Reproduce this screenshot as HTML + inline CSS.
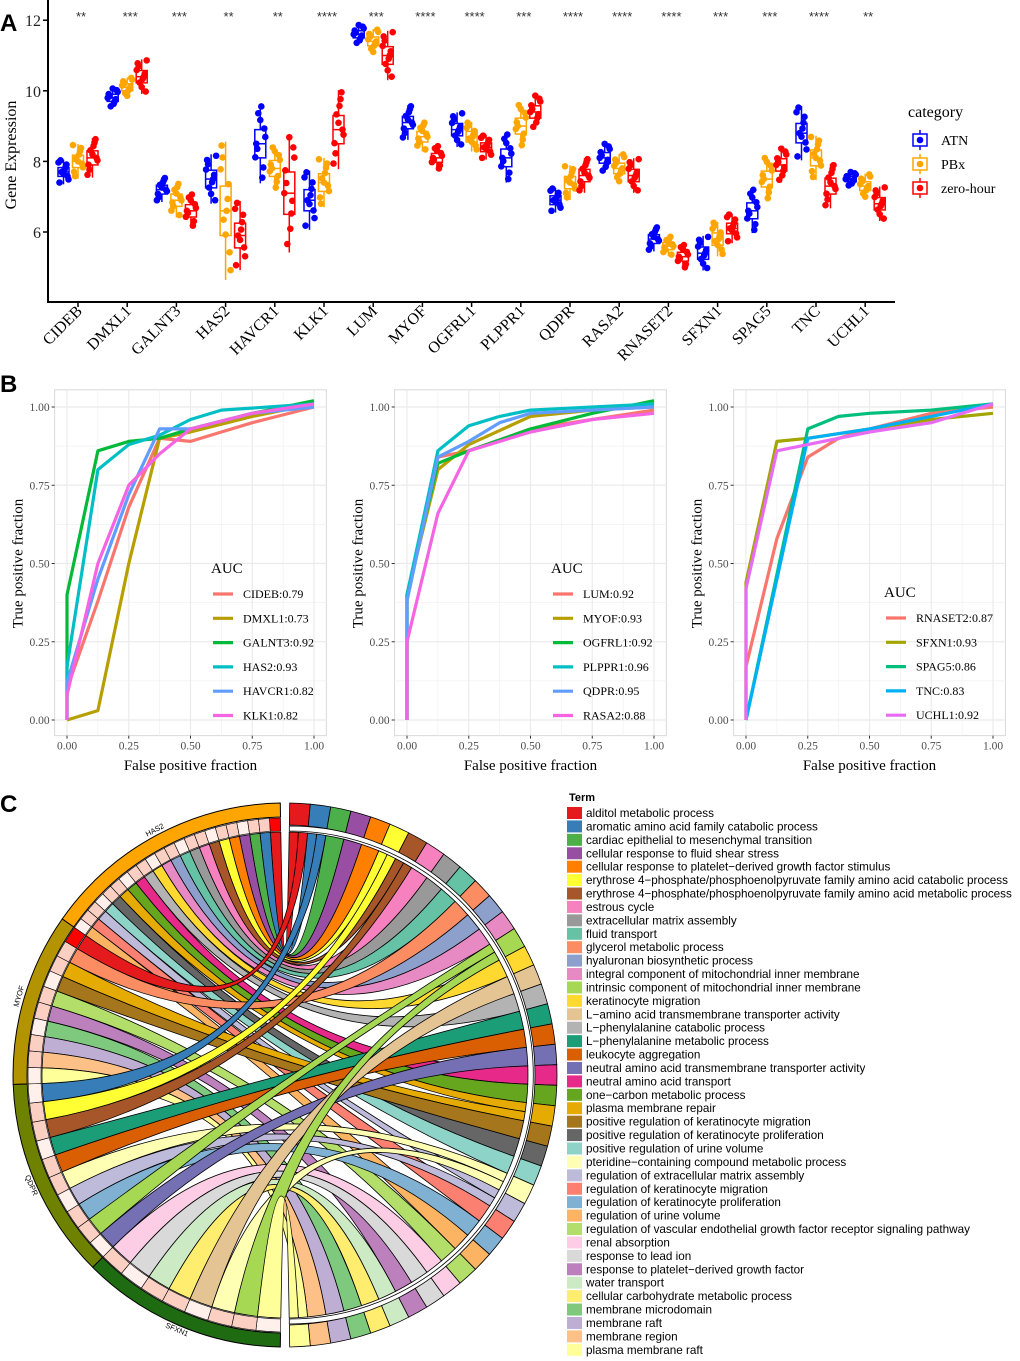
<!DOCTYPE html>
<html><head><meta charset="utf-8"><style>
html,body{margin:0;padding:0;background:#fff}
svg{display:block}
.serif{font-family:"Liberation Serif",serif}
.sans{font-family:"Liberation Sans",sans-serif}
</style></head><body>
<svg id="fig" width="1020" height="1361" viewBox="0 0 1020 1361" xmlns="http://www.w3.org/2000/svg">
<g id="panelA"></g>
<g id="panelB"></g>
<g id="panelC"></g>
</svg>
<script>
// ---------- Panel A data ----------
const genes = ["CIDEB","DMXL1","GALNT3","HAS2","HAVCR1","KLK1","LUM","MYOF","OGFRL1","PLPPR1","QDPR","RASA2","RNASET2","SFXN1","SPAG5","TNC","UCHL1"];
const seriesNames = ["ATN","PBx","zero-hour"];
const medATN = [7.7,9.8,7.2,7.5,8.5,6.9,11.6,9.1,8.9,8.1,6.9,8.1,5.8,5.4,6.6,8.8,7.5];
const medPBx = [8.0,10.1,6.9,6.6,7.8,7.4,11.4,8.7,8.7,9.0,7.4,7.8,5.6,5.8,7.5,8.1,7.3];
const medZH  = [8.1,10.4,6.6,5.9,7.1,8.9,11.0,8.1,8.4,9.4,7.6,7.6,5.3,6.1,7.9,7.3,6.8];
const iqrATN = [0.25,0.2,0.25,0.5,0.8,0.6,0.2,0.35,0.35,0.5,0.25,0.3,0.25,0.35,0.45,0.55,0.15];
const iqrPBx = [0.35,0.2,0.35,1.4,0.45,0.5,0.25,0.3,0.3,0.45,0.35,0.3,0.2,0.35,0.45,0.45,0.25];
const iqrZH  = [0.4,0.35,0.35,0.7,1.2,0.8,0.5,0.25,0.25,0.35,0.35,0.35,0.25,0.3,0.35,0.45,0.35];
const sigLabels = ["**","***","***","**","**","****","***","****","****","***","****","****","****","***","***","****","**"];
const yTicksA = [6,8,10,12];
// ---------- Panel B data ----------
const rocNames = [["CIDEB:0.79","DMXL1:0.73","GALNT3:0.92","HAS2:0.93","HAVCR1:0.82","KLK1:0.82"],
 ["LUM:0.92","MYOF:0.93","OGFRL1:0.92","PLPPR1:0.96","QDPR:0.95","RASA2:0.88"],
 ["RNASET2:0.87","SFXN1:0.93","SPAG5:0.86","TNC:0.83","UCHL1:0.92"]];
const rocFpr1 = [[0,0.125,0.25,0.375,0.5,0.625,0.75,1],[0,0,0.125,0.25,0.375,0.5,0.75,1],[0,0,0.125,0.25,0.375,0.5,0.75,1],[0,0,0.125,0.25,0.375,0.5,0.625,1],[0,0,0.125,0.25,0.375,0.5,0.75,1],[0,0,0.125,0.25,0.375,0.5,0.75,1]];
const rocTpr1 = [[0.1,0.38,0.68,0.9,0.89,0.92,0.95,1],[0,0,0.03,0.5,0.9,0.92,0.97,1.01],[0,0.4,0.86,0.89,0.9,0.93,0.98,1.02],[0,0.17,0.8,0.88,0.91,0.96,0.99,1.01],[0,0.12,0.45,0.72,0.93,0.93,0.98,1],[0,0.08,0.5,0.75,0.85,0.93,0.98,1.01]];
const rocFpr2 = [[0,0,0.125,0.25,0.5,0.75,1],[0,0,0.125,0.25,0.5,0.75,1],[0,0,0.125,0.25,0.5,0.75,1],[0,0,0.125,0.25,0.375,0.5,1],[0,0,0.125,0.25,0.375,0.5,1],[0,0,0.125,0.25,0.5,0.75,1]];
const rocTpr2 = [[0,0.4,0.84,0.86,0.93,0.96,0.99],[0,0.4,0.8,0.88,0.97,0.99,1],[0,0.4,0.82,0.86,0.93,0.98,1.02],[0,0.4,0.86,0.94,0.97,0.99,1.01],[0,0.38,0.84,0.89,0.95,0.98,1],[0,0.25,0.66,0.86,0.92,0.96,0.98]];
const rocFpr3 = [[0,0,0.125,0.25,0.375,0.5,0.75,1],[0,0,0.125,0.25,0.5,0.75,1],[0,0.25,0.375,0.5,0.75,1],[0,0.25,0.5,0.75,1],[0,0,0.125,0.25,0.5,0.75,1]];
const rocTpr3 = [[0,0.17,0.58,0.84,0.9,0.93,0.98,1],[0,0.44,0.89,0.9,0.93,0.96,0.98],[0,0.93,0.97,0.98,0.99,1.01],[0,0.9,0.93,0.97,1.01],[0,0.42,0.86,0.88,0.92,0.95,1.01]];
const rocTicks = [0,0.25,0.5,0.75,1];
// ---------- Panel C data ----------
const terms = ["alditol metabolic process","aromatic amino acid family catabolic process","cardiac epithelial to mesenchymal transition","cellular response to fluid shear stress","cellular response to platelet\u2212derived growth factor stimulus","erythrose 4\u2212phosphate/phosphoenolpyruvate family amino acid catabolic process","erythrose 4\u2212phosphate/phosphoenolpyruvate family amino acid metabolic process","estrous cycle","extracellular matrix assembly","fluid transport","glycerol metabolic process","hyaluronan biosynthetic process","integral component of mitochondrial inner membrane","intrinsic component of mitochondrial inner membrane","keratinocyte migration","L\u2212amino acid transmembrane transporter activity","L\u2212phenylalanine catabolic process","L\u2212phenylalanine metabolic process","leukocyte aggregation","neutral amino acid transmembrane transporter activity","neutral amino acid transport","one\u2212carbon metabolic process","plasma membrane repair","positive regulation of keratinocyte migration","positive regulation of keratinocyte proliferation","positive regulation of urine volume","pteridine\u2212containing compound metabolic process","regulation of extracellular matrix assembly","regulation of keratinocyte migration","regulation of keratinocyte proliferation","regulation of urine volume","regulation of vascular endothelial growth factor receptor signaling pathway","renal absorption","response to lead ion","response to platelet\u2212derived growth factor","water transport","cellular carbohydrate metabolic process","membrane microdomain","membrane raft","membrane region","plasma membrane raft"];
const chordGenes = ["HAS2","MYOF","QDPR","SFXN1"];
const linkTerm = [0,1,2,3,4,5,6,7,8,9,11,12,14,16,20,21,22,24,25,27,28,30, 0,10,22,23,31,34,37,38,39,40, 1,5,6,17,18,26,27,29,13,19, 32,33,35,36,15,26,13,40];
const linkGene = [0,0,0,0,0,0,0,0,0,0,0,0,0,0,0,0,0,0,0,0,0,0, 1,1,1,1,1,1,1,1,1,1, 2,2,2,2,2,2,2,2,2,2, 3,3,3,3,3,3,3,3];

const NS="http://www.w3.org/2000/svg";
function mk(parent,tag,attrs,text){const e=document.createElementNS(NS,tag);for(const k in attrs)e.setAttribute(k,attrs[k]);if(text!==undefined)e.textContent=text;parent.appendChild(e);return e;}

// ================= PANEL A =================
(function(){
 const g=document.getElementById('panelA');
 const cols=["#0000FF","#FFA500","#FF0000"];
 const meds=[medATN,medPBx,medZH], iqrs=[iqrATN,iqrPBx,iqrZH];
 const y=v=>232-(v-6)*35.3;
 const x=i=>78+i*49.2;
 const t=mk(g,'text',{x:0,y:31,class:'sans','font-size':24,'font-weight':'bold'},'A');
 
 let ax=mk(g,'path',{d:'M48 0 V302 H895',stroke:'#000','stroke-width':2,fill:'none'});
 
 yTicksA.forEach(v=>{
  mk(g,'line',{x1:43,x2:48,y1:y(v),y2:y(v),stroke:'#000','stroke-width':1.5});
  const l=mk(g,'text',{x:41,y:y(v)+6,'text-anchor':'end',class:'serif','font-size':16,fill:'#222'},v);
  
 });
 const yt=mk(g,'text',{x:16,y:155,'text-anchor':'middle',class:'serif','font-size':16,transform:'rotate(-90 16 155)'},'Gene Expression');
 
 const jx=[-4,3,-2,5,-5,1,4,-3,2,0];
 const jv=[-1.0,-0.7,-0.4,-0.15,0,0.2,0.45,0.7,0.9,1.1];
 genes.forEach((gn,i)=>{
  mk(g,'line',{x1:x(i),x2:x(i),y1:302,y2:307,stroke:'#000','stroke-width':1.5});
  const lab=mk(g,'text',{x:x(i)+5,y:312,'text-anchor':'end',class:'serif','font-size':16,transform:`rotate(-45 ${x(i)+5} 312)`},gn);
  
  if(sigLabels[i]){
   const s=mk(g,'text',{x:x(i)+3,y:21,'text-anchor':'middle',class:'sans','font-size':13,fill:'#333'},sigLabels[i]);
   
  }
  for(let k=0;k<3;k++){
   const cx=x(i)+(k-1)*14.5, m=meds[k][i], q=iqrs[k][i];
   const bg=mk(g,'g',{});
   
   mk(bg,'line',{x1:cx,x2:cx,y1:y(m+q*1.4),y2:y(m-q*1.4),stroke:cols[k],'stroke-width':1.5});
   mk(bg,'rect',{x:cx-5.5,y:y(m+q/2),width:11,height:Math.max(2,y(m-q/2)-y(m+q/2)),fill:'#fff',stroke:cols[k],'stroke-width':1.5});
   mk(bg,'line',{x1:cx-5.5,x2:cx+5.5,y1:y(m),y2:y(m),stroke:cols[k],'stroke-width':1.5});
   for(let d=0;d<10;d++){
    const idx=(d*7+i*3+k)%10;
    mk(bg,'circle',{cx:cx+jx[(d+i)%10],cy:y(m+jv[idx]*q*1.2),r:3.3,fill:cols[k]});
   }
  }
 });
 const lg=mk(g,'g',{});
 mk(lg,'text',{x:908,y:117,class:'serif','font-size':16},'category');
 seriesNames.forEach((n,k)=>{
  const yy=140+k*24;
  const e=mk(lg,'g',{});
  mk(e,'line',{x1:920,x2:920,y1:yy-10,y2:yy+10,stroke:cols[k],'stroke-width':1.5});
  mk(e,'rect',{x:913,y:yy-6,width:14,height:12,fill:'#fff',stroke:cols[k],'stroke-width':1.5});
  mk(e,'circle',{cx:920,cy:yy,r:3.3,fill:cols[k]});
  mk(e,'text',{x:941,y:yy+5,class:'serif','font-size':14},n);
 });
})();

// ================= PANEL B =================
(function(){
 const g=document.getElementById('panelB');
 const t=mk(g,'text',{x:0,y:392,class:'sans','font-size':24,'font-weight':'bold'},'B');
 
 const pal6=["#F8766D","#B79F00","#00BA38","#00BFC4","#619CFF","#F564E3"];
 const pal5=["#F8766D","#A3A500","#00BF7D","#00B0F6","#E76BF3"];
 const cfg=[{x0:67,fpr:rocFpr1,tpr:rocTpr1,pal:pal6,lx:213,ly:568},{x0:407,fpr:rocFpr2,tpr:rocTpr2,pal:pal6,lx:553,ly:568},{x0:746,fpr:rocFpr3,tpr:rocTpr3,pal:pal5,lx:886,ly:592}];
 cfg.forEach((c,p)=>{
  const W=247,y0=720,H=313;
  const X=v=>c.x0+v*W, Y=v=>y0-v*H;
  const pg=mk(g,'g',{});
  const L=X(-0.05),R=X(1.05),T=Y(1.055),B=Y(-0.05);
  mk(pg,'rect',{x:L,y:T,width:R-L,height:B-T,fill:'#fff',stroke:'#d9d9d9','stroke-width':1});
  for(let v=0.125;v<1.05;v+=0.25){mk(pg,'line',{x1:X(v),x2:X(v),y1:T,y2:B,stroke:'#f2f2f2','stroke-width':0.8});mk(pg,'line',{x1:L,x2:R,y1:Y(v),y2:Y(v),stroke:'#f2f2f2','stroke-width':0.8});}
  rocTicks.forEach(v=>{
   mk(pg,'line',{x1:X(v),x2:X(v),y1:T,y2:B,stroke:'#ebebeb','stroke-width':1.2});
   mk(pg,'line',{x1:L,x2:R,y1:Y(v),y2:Y(v),stroke:'#ebebeb','stroke-width':1.2});
   mk(pg,'line',{x1:X(v),x2:X(v),y1:B,y2:B+3,stroke:'#333'});
   mk(pg,'line',{x1:L-3,x2:L,y1:Y(v),y2:Y(v),stroke:'#333'});
   const xl=mk(pg,'text',{x:X(v),y:B+14,'text-anchor':'middle',class:'serif','font-size':11.5,fill:'#4d4d4d'},v.toFixed(2));
   
   const yl=mk(pg,'text',{x:L-5,y:Y(v)+4,'text-anchor':'end',class:'serif','font-size':11.5,fill:'#4d4d4d'},v.toFixed(2));
   
  });
  const xt=mk(pg,'text',{x:X(0.5),y:770,'text-anchor':'middle',class:'serif','font-size':15},'False positive fraction');
  
  const yx=L-32;
  const ytt=mk(pg,'text',{x:yx,y:Y(0.5),'text-anchor':'middle',class:'serif','font-size':15,transform:`rotate(-90 ${yx} ${Y(0.5)})`},'True positive fraction');
  
  c.fpr.forEach((fx,s)=>{
   const d=fx.map((v,j)=>(j?'L':'M')+X(v).toFixed(1)+' '+Y(c.tpr[s][j]).toFixed(1)).join(' ');
   const ln=mk(pg,'path',{d:d,fill:'none',stroke:c.pal[s],'stroke-width':3.2,'stroke-linejoin':'round'});
   
  });
  const lg=mk(pg,'g',{});
  mk(lg,'text',{x:c.lx-2,y:c.ly+5,class:'serif','font-size':15},'AUC');
  rocNames[p].forEach((n,s)=>{
   const yy=c.ly+26+s*24.3;
   const e=mk(lg,'g',{});
   mk(e,'line',{x1:c.lx,x2:c.lx+20,y1:yy,y2:yy,stroke:c.pal[s],'stroke-width':3.2});
   mk(e,'text',{x:c.lx+30,y:yy+4,class:'serif','font-size':12},n);
  });
 });
})();

// ================= PANEL C =================
(function(){
 const g=document.getElementById('panelC');
 const t=mk(g,'text',{x:0,y:812,class:'sans','font-size':24,'font-weight':'bold'},'C');
 
 const tcol=["#E41A1C","#377EB8","#4DAF4A","#984EA3","#FF7F00","#FFFF33","#A65628","#F781BF","#999999","#66C2A5","#FC8D62","#8DA0CB","#E78AC3","#A6D854","#FFD92F","#E5C494","#B3B3B3","#1B9E77","#D95F02","#7570B3","#E7298A","#66A61E","#E6AB02","#A6761D","#666666","#8DD3C7","#FFFFB3","#BEBADA","#FB8072","#80B1D3","#FDB462","#B3DE69","#FCCDE5","#D9D9D9","#BC80BD","#CCEBC5","#FFED6F","#7FC97F","#BEAED4","#FDC086","#FFFF99"];
 const gcol=["#FFA500","#B39400","#6E8200","#1F6B12"];
 const gspan=[[305,359],[268,305],[225,268],[181,225]];
 const cx=285,cy=1075;
 const pt=(r,a)=>{const q=a*Math.PI/180;return [(cx+r*Math.sin(q)).toFixed(1),(cy-r*Math.cos(q)).toFixed(1)];};
 const arcSeg=(r1,r2,a1,a2)=>{const p1=pt(r2,a1),p2=pt(r2,a2),p3=pt(r1,a2),p4=pt(r1,a1);const lg=(a2-a1)>180?1:0;
  return `M${p1} A${r2} ${r2} 0 ${lg} 1 ${p2} L${p3} A${r1} ${r1} 0 ${lg} 0 ${p4} Z`;};
 const tStart=1,tStep=178/terms.length;
 const termCount=terms.map((_,i)=>linkTerm.filter(v=>v===i).length);
 const termUsed=terms.map(()=>0);
 const geneCount=chordGenes.map((_,k)=>linkGene.filter(v=>v===k).length);
 const geneUsed=chordGenes.map(()=>0);
 const R=243;
 const rib=mk(g,'g',{});
 linkTerm.forEach((ti,j)=>{
  const gk=linkGene[j];
  const n=Math.max(1,termCount[ti]);const w=tStep/n;
  const t1=tStart+ti*tStep+termUsed[ti]*w,t2=t1+w;termUsed[ti]++;
  const gs=gspan[gk],gw=(gs[1]-gs[0])/geneCount[gk];
  const g2=gs[1]-geneUsed[gk]*gw,g1=g2-gw;geneUsed[gk]++;
  const d=`M${pt(R,g1)} A${R} ${R} 0 0 1 ${pt(R,g2)} Q${cx} ${cy} ${pt(R,t1)} A${R} ${R} 0 0 1 ${pt(R,t2)} Q${cx} ${cy} ${pt(R,g1)} Z`;
  const p=mk(rib,'path',{d:d,fill:tcol[ti],stroke:'#000','stroke-width':0.8});
  
  
 });
 mk(g,'path',{d:arcSeg(244,249,tStart,tStart+178),fill:'#fff',stroke:'#000','stroke-width':0.8});
 terms.forEach((tn,i)=>{
  const s=mk(g,'path',{d:arcSeg(250,272,tStart+i*tStep,tStart+(i+1)*tStep),fill:tcol[i],stroke:'#000','stroke-width':0.8});
  
 });
 chordGenes.forEach((gn,k)=>{
  const gs=gspan[k];
  const s=mk(g,'path',{d:arcSeg(258,272,gs[0],gs[1]),fill:gcol[k],stroke:'#000','stroke-width':1});
  
  const gw=(gs[1]-gs[0])/geneCount[k];
  for(let c=0;c<geneCount[k];c++){
   const red=(k===1&&c===geneCount[k]-1)||(k===0&&c===geneCount[k]-1);
   mk(g,'path',{d:arcSeg(244,257,gs[0]+c*gw,gs[0]+(c+1)*gw),fill:red?'#FF0000':(c%3===0?'#FFF0EB':'#FBD0C2'),stroke:'#000','stroke-width':0.6});
  }
  const mid=(gs[0]+gs[1])/2,lp=pt(277,mid);
  const rot=mid<270?mid-180:mid-360;
  const lab=mk(g,'text',{x:lp[0],y:lp[1],'text-anchor':'middle','dominant-baseline':'middle',class:'sans','font-size':7.5,transform:`rotate(${rot} ${lp[0]} ${lp[1]})`},gn);
  
 });
 const lg=mk(g,'g',{});
 mk(lg,'text',{x:569,y:801,class:'sans','font-size':11,'font-weight':'bold'},'Term');
 terms.forEach((tn,i)=>{
  const yy=813+i*13.42;
  const e=mk(lg,'g',{});
  mk(e,'rect',{x:567,y:yy-6,width:15,height:12,fill:tcol[i]});
  mk(e,'text',{x:586,y:yy+4,class:'sans','font-size':11.7},tn);
 });
})();
</script>
</body></html>
